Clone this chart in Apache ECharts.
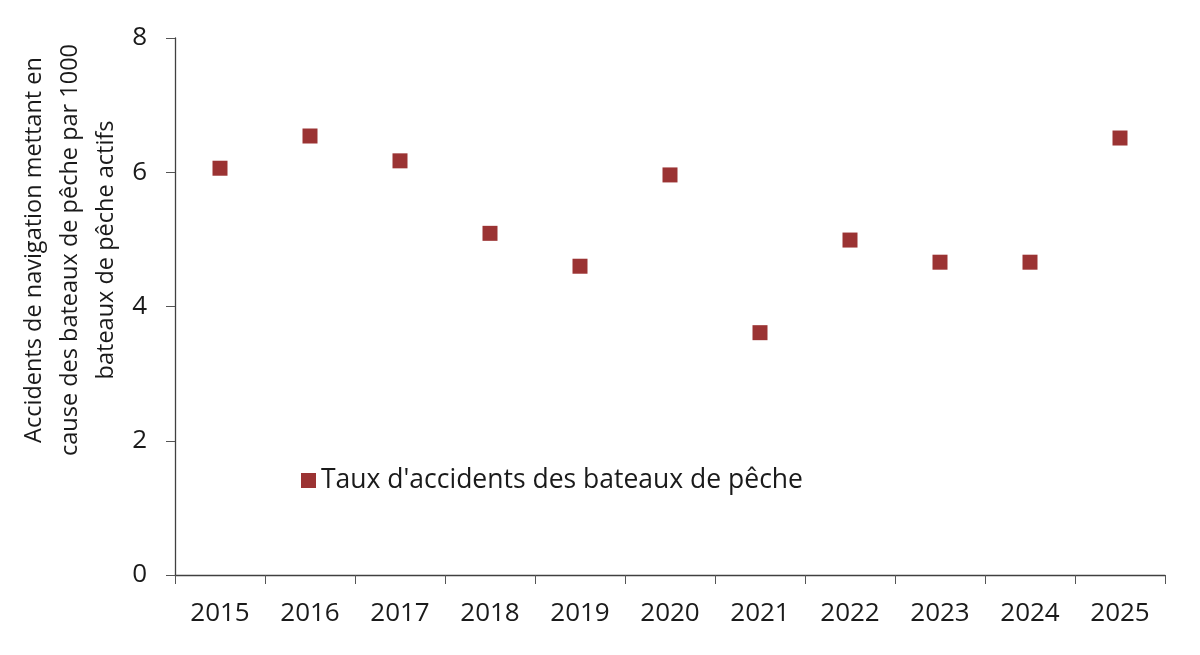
<!DOCTYPE html>
<html>
<head>
<meta charset="utf-8">
<script src="https://cdn.jsdelivr.net/npm/echarts@6/dist/echarts.min.js"></script>
<style>html,body{margin:0;padding:0;background:#fff}#c{width:1200px;height:655px}</style>
</head>
<body>
<div id="c"></div>
<script>
const categories = ['2015','2016','2017','2018','2019','2020','2021','2022','2023','2024','2025'];
const accidentRate = [6.06, 6.54, 6.17, 5.09, 4.60, 5.96, 3.61, 4.99, 4.66, 4.66, 6.51];
const seriesName = "Taux d'accidents des bateaux de pêche";
const yTitleLines = ['Accidents de navigation mettant en', 'cause des bateaux de pêche par 1000', 'bateaux de pêche actifs'];

const font = "'Open Sans', 'Noto Sans', sans-serif";
const chart = echarts.init(document.getElementById('c'), null, {renderer: 'canvas'});
chart.setOption({
  animation: false,
  backgroundColor: '#ffffff',
  grid: {left: 175, right: 35, top: 38, bottom: 80},
  legend: {
    left: 296, top: 462,
    itemWidth: 15, itemHeight: 15, itemGap: 10,
    icon: 'rect',
    textStyle: {fontFamily: font, fontSize: 26.5, color: '#1a1a1a'},
    data: [seriesName]
  },
  graphic: [{
    type: 'text',
    x: 70, y: 250,
    rotation: Math.PI / 2,
    style: {
      text: yTitleLines.join('\n'),
      fontFamily: font, fontSize: 23.5, lineHeight: 36, fontWeight: 500,
      fill: '#1a1a1a', align: 'center', verticalAlign: 'middle'
    }
  }],
  xAxis: {
    type: 'category',
    data: categories,
    boundaryGap: true,
    axisLine: {lineStyle: {color: '#404040', width: 1.3}},
    axisTick: {show: true, length: 9, lineStyle: {color: '#555'}},
    axisLabel: {fontFamily: font, fontSize: 26, color: '#1a1a1a', margin: 26},
    splitLine: {show: false}
  },
  yAxis: {
    type: 'value',
    min: 0, max: 8, interval: 2,
    axisLine: {show: true, lineStyle: {color: '#404040', width: 1.3}},
    axisTick: {show: true, length: 9, lineStyle: {color: '#555'}},
    axisLabel: {fontFamily: font, fontSize: 26, color: '#1a1a1a', margin: 28},
    splitLine: {show: false}
  },
  series: [{
    name: seriesName,
    type: 'scatter',
    data: accidentRate,
    symbol: 'rect',
    symbolSize: 15,
    itemStyle: {color: '#9b3333', opacity: 1}
  }]
});
</script>
</body>
</html>
